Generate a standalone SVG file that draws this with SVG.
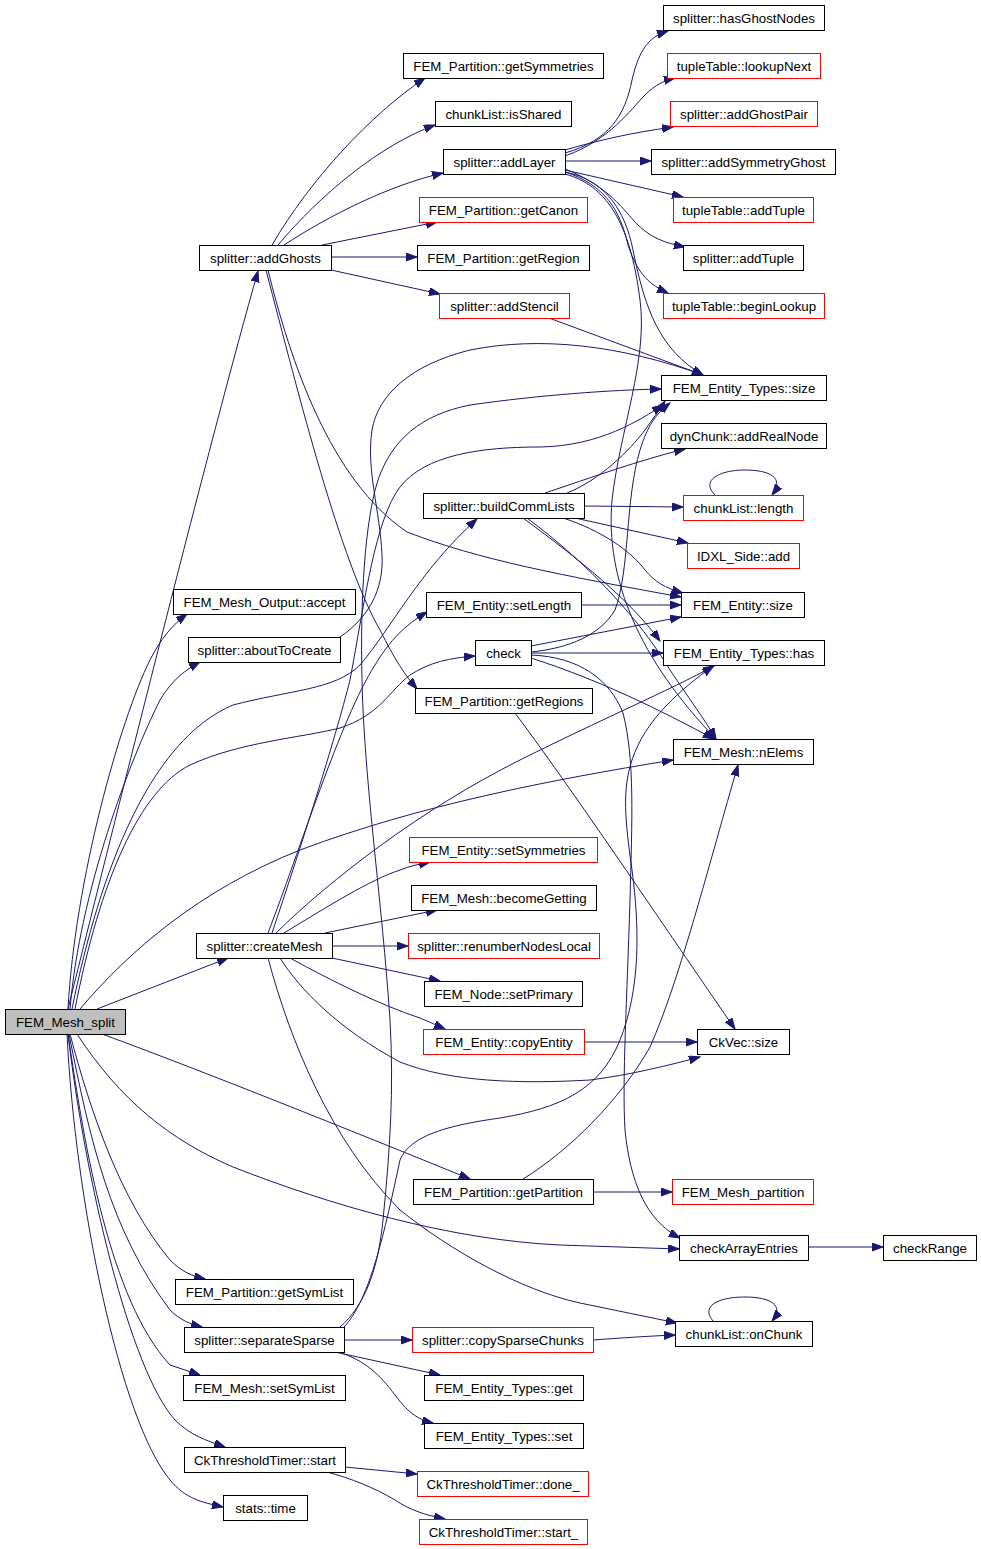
<svg xmlns="http://www.w3.org/2000/svg" width="981" height="1549" viewBox="0 0 981 1549">
<style>
.n rect{fill:#fff;stroke:#000;stroke-width:1}
.n.r rect{stroke:#f00}
.n.g rect{fill:#bfbfbf}
.n text{font-family:"Liberation Sans",Arial,Helvetica,sans-serif;font-size:13.3px;fill:#000;text-anchor:middle}
#edges path{fill:none;stroke:#191970;stroke-width:1;marker-end:url(#ah)}
</style>
<defs>
<marker id="ah" markerUnits="userSpaceOnUse" markerWidth="12" markerHeight="10" refX="11" refY="4" orient="auto">
<path d="M0,0 L11,4 L0,8 z" fill="#191970" stroke="#191970" stroke-width="1"/>
</marker>
</defs>
<rect width="981" height="1549" fill="#fff"/>
<g id="edges">
<path d="M68,1009 C120,800 210,440 258,271"/>
<path d="M68,1009 C75,880 120,720 150,660 C160,640 172,625 187,614"/>
<path d="M70,1009 C80,890 130,760 160,700 C172,680 185,670 200,662"/>
<path d="M72,1009 C100,870 150,740 233,705 C290,690 335,690 360,665 C390,630 420,570 477,519"/>
<path d="M75,1009 C100,880 140,790 190,765 C240,742 300,738 340,728 C380,715 390,690 410,675 C430,662 450,658 475,656"/>
<path d="M80,1009 C130,950 200,890 300,850 C420,805 550,780 673,760"/>
<path d="M97,1009 L228,958"/>
<path d="M102,1034 C200,1070 350,1130 470,1179"/>
<path d="M77,1034 C120,1100 170,1140 233,1167 C330,1205 450,1240 560,1245 L679,1249"/>
<path d="M70,1034 C90,1110 120,1200 170,1260 C182,1272 192,1276 205,1279"/>
<path d="M69,1034 C90,1140 110,1230 170,1310 C180,1320 190,1324 202,1327"/>
<path d="M68,1034 C85,1150 110,1300 170,1365 L200,1375"/>
<path d="M68,1034 C85,1180 130,1370 175,1420 C190,1435 205,1440 225,1447"/>
<path d="M67,1034 C75,1200 120,1420 170,1480 C185,1498 200,1502 223,1507"/>
<path d="M272,245 C310,180 370,115 425,78"/>
<path d="M278,245 C320,195 380,145 435,125"/>
<path d="M284,245 C330,215 390,185 443,173"/>
<path d="M322,245 L437,222"/>
<path d="M331,257 L417,257"/>
<path d="M331,270 L440,294"/>
<path d="M268,270 C290,360 330,480 407,532 C480,560 560,575 681,597"/>
<path d="M266,270 C300,400 340,560 380,630 C395,660 405,675 417,689"/>
<path d="M565,153 C610,140 625,115 632,80 C640,45 652,36 668,31"/>
<path d="M565,156 C610,140 630,110 645,95 C655,85 665,80 675,78"/>
<path d="M565,150 C600,140 630,133 673,127"/>
<path d="M565,161 L651,161"/>
<path d="M565,170 L683,197"/>
<path d="M565,169 C605,185 620,205 635,222 C650,238 665,243 685,247"/>
<path d="M565,172 C605,185 620,210 628,245 C638,275 650,285 668,293"/>
<path d="M565,172 C605,180 625,210 633,250 C645,310 660,350 703,375"/>
<path d="M565,174 C605,185 630,220 640,300 C648,360 620,430 612,500 C605,580 640,660 716,739"/>
<path d="M549,318 L703,375"/>
<path d="M340,637 C368,618 384,590 382,555 C380,510 366,470 372,430 C378,395 410,365 470,350 C540,336 620,345 703,375"/>
<path d="M340,1327 C365,1305 378,1270 383,1220 C390,1150 394,1090 390,1020 C382,900 364,780 362,680 C360,600 365,520 378,480 C392,440 420,415 470,405 C540,395 610,390 661,389"/>
<path d="M344,1327 C370,1300 385,1230 400,1160 C410,1135 450,1125 500,1118 C560,1108 600,1090 620,1040 C640,990 640,930 632,870 C625,820 622,790 632,760 C645,720 680,690 713,666"/>
<path d="M344,1340 L412,1340"/>
<path d="M335,1352 L440,1375"/>
<path d="M338,1352 C365,1360 380,1375 395,1395 C410,1415 420,1420 433,1423"/>
<path d="M593,1340 C620,1338 650,1336 675,1335"/>
<path d="M345,1467 L417,1474"/>
<path d="M327,1472 C350,1478 375,1488 395,1500 C410,1510 425,1515 445,1519"/>
<path d="M593,1192 L672,1192"/>
<path d="M523,1179 C570,1150 620,1100 650,1047 C680,980 710,860 738,765"/>
<path d="M515,713 C580,800 680,950 735,1029"/>
<path d="M584,1042 L697,1042"/>
<path d="M268,933 C300,850 340,720 375,665 C390,640 405,625 427,612"/>
<path d="M272,933 C300,850 335,740 350,680 C365,600 375,520 400,487 C425,455 480,447 540,447 C600,446 640,420 663,405"/>
<path d="M276,933 C330,880 420,810 520,760 C600,720 670,690 714,666"/>
<path d="M284,933 C330,905 370,880 400,870 C410,866 420,864 430,862"/>
<path d="M325,933 L437,910"/>
<path d="M332,946 L408,946"/>
<path d="M332,958 L440,981"/>
<path d="M290,958 C330,980 380,1005 420,1018 C430,1022 438,1026 445,1029"/>
<path d="M280,958 C300,990 340,1030 400,1062 C450,1082 520,1084 590,1080 C630,1075 670,1065 700,1057"/>
<path d="M268,958 C290,1040 330,1140 400,1210 C450,1250 520,1290 580,1303 L677,1323"/>
<path d="M545,493 C590,478 640,460 685,449"/>
<path d="M567,493 C600,480 630,450 645,430 C652,420 658,412 665,401"/>
<path d="M584,506 L683,507"/>
<path d="M575,518 L688,543"/>
<path d="M563,518 C600,530 630,550 645,570 C655,582 665,588 683,593"/>
<path d="M523,518 C580,560 630,600 660,641"/>
<path d="M527,518 C590,565 640,620 670,670 C690,700 705,720 716,739"/>
<path d="M581,605 L681,605"/>
<path d="M531,646 L681,617"/>
<path d="M531,652 C570,648 600,635 615,610 C630,570 625,500 640,450 C648,425 655,415 670,403"/>
<path d="M531,653 L663,653"/>
<path d="M531,658 C600,680 660,710 714,739"/>
<path d="M531,655 C580,657 610,680 623,713 C635,760 632,820 630,900 C627,1000 622,1080 625,1130 C630,1180 645,1220 680,1238"/>
<path d="M715,495 C700,480 720,470 745,470 C770,470 785,478 772,495"/>
<path d="M713,1321 C700,1305 720,1297 745,1297 C770,1297 785,1305 772,1321"/>
<path d="M808,1247 L883,1247"/>
</g>
<g id="FEM_Mesh_split" class="n g"><rect x="5.5" y="1009.5" width="120" height="25"/><text x="65.5" y="1027">FEM_Mesh_split</text></g>
<g id="addGhosts" class="n"><rect x="199.5" y="245.5" width="132" height="25"/><text x="265.5" y="263">splitter::addGhosts</text></g>
<g id="getSymmetries" class="n"><rect x="403.5" y="53.5" width="200" height="25"/><text x="503.5" y="71">FEM_Partition::getSymmetries</text></g>
<g id="isShared" class="n"><rect x="435.5" y="101.5" width="136" height="25"/><text x="503.5" y="119">chunkList::isShared</text></g>
<g id="addLayer" class="n"><rect x="443.5" y="149.5" width="122" height="25"/><text x="504.5" y="167">splitter::addLayer</text></g>
<g id="getCanon" class="n r"><rect x="419.5" y="197.5" width="168" height="25"/><text x="503.5" y="215">FEM_Partition::getCanon</text></g>
<g id="getRegion" class="n"><rect x="417.5" y="245.5" width="172" height="25"/><text x="503.5" y="263">FEM_Partition::getRegion</text></g>
<g id="addStencil" class="n r"><rect x="439.5" y="293.5" width="130" height="25"/><text x="504.5" y="311">splitter::addStencil</text></g>
<g id="hasGhostNodes" class="n"><rect x="663.5" y="5.5" width="161" height="25"/><text x="744" y="23">splitter::hasGhostNodes</text></g>
<g id="lookupNext" class="n r"><rect x="667.5" y="53.5" width="153" height="25"/><text x="744" y="71">tupleTable::lookupNext</text></g>
<g id="addGhostPair" class="n r"><rect x="670.5" y="101.5" width="147" height="25"/><text x="744" y="119">splitter::addGhostPair</text></g>
<g id="addSymmetryGhost" class="n"><rect x="651.5" y="149.5" width="184" height="25"/><text x="743.5" y="167">splitter::addSymmetryGhost</text></g>
<g id="tt_addTuple" class="n r"><rect x="673.5" y="197.5" width="140" height="25"/><text x="743.5" y="215">tupleTable::addTuple</text></g>
<g id="sp_addTuple" class="n"><rect x="683.5" y="245.5" width="120" height="25"/><text x="743.5" y="263">splitter::addTuple</text></g>
<g id="beginLookup" class="n r"><rect x="663.5" y="293.5" width="161" height="25"/><text x="744" y="311">tupleTable::beginLookup</text></g>
<g id="FET_size" class="n"><rect x="661.5" y="375.5" width="165" height="25"/><text x="744" y="393">FEM_Entity_Types::size</text></g>
<g id="addRealNode" class="n"><rect x="661.5" y="423.5" width="165" height="25"/><text x="744" y="441">dynChunk::addRealNode</text></g>
<g id="cl_length" class="n r"><rect x="683.5" y="495.5" width="120" height="25"/><text x="743.5" y="513">chunkList::length</text></g>
<g id="IDXL_add" class="n r"><rect x="687.5" y="543.5" width="112" height="25"/><text x="743.5" y="561">IDXL_Side::add</text></g>
<g id="FE_size" class="n"><rect x="681.5" y="592.5" width="123" height="25"/><text x="743" y="610">FEM_Entity::size</text></g>
<g id="FET_has" class="n"><rect x="663.5" y="640.5" width="161" height="25"/><text x="744" y="658">FEM_Entity_Types::has</text></g>
<g id="nElems" class="n"><rect x="673.5" y="739.5" width="140" height="25"/><text x="743.5" y="757">FEM_Mesh::nElems</text></g>
<g id="buildCommLists" class="n"><rect x="423.5" y="493.5" width="161" height="25"/><text x="504" y="511">splitter::buildCommLists</text></g>
<g id="setLength" class="n"><rect x="426.5" y="592.5" width="155" height="25"/><text x="504" y="610">FEM_Entity::setLength</text></g>
<g id="check" class="n"><rect x="475.5" y="640.5" width="56" height="25"/><text x="503.5" y="658">check</text></g>
<g id="getRegions" class="n"><rect x="415.5" y="688.5" width="177" height="25"/><text x="504" y="706">FEM_Partition::getRegions</text></g>
<g id="accept" class="n"><rect x="173.5" y="589.5" width="182" height="25"/><text x="264.5" y="607">FEM_Mesh_Output::accept</text></g>
<g id="aboutToCreate" class="n"><rect x="188.5" y="637.5" width="152" height="25"/><text x="264.5" y="655">splitter::aboutToCreate</text></g>
<g id="createMesh" class="n"><rect x="196.5" y="933.5" width="136" height="25"/><text x="264.5" y="951">splitter::createMesh</text></g>
<g id="setSymmetries" class="n r"><rect x="409.5" y="837.5" width="188" height="25"/><text x="503.5" y="855">FEM_Entity::setSymmetries</text></g>
<g id="becomeGetting" class="n"><rect x="411.5" y="885.5" width="185" height="25"/><text x="504" y="903">FEM_Mesh::becomeGetting</text></g>
<g id="renumberNodesLocal" class="n r"><rect x="408.5" y="933.5" width="191" height="25"/><text x="504" y="951">splitter::renumberNodesLocal</text></g>
<g id="setPrimary" class="n"><rect x="424.5" y="981.5" width="158" height="25"/><text x="503.5" y="999">FEM_Node::setPrimary</text></g>
<g id="copyEntity" class="n r"><rect x="423.5" y="1029.5" width="161" height="25"/><text x="504" y="1047">FEM_Entity::copyEntity</text></g>
<g id="CkVec_size" class="n"><rect x="697.5" y="1029.5" width="92" height="25"/><text x="743.5" y="1047">CkVec::size</text></g>
<g id="getPartition" class="n"><rect x="413.5" y="1179.5" width="180" height="25"/><text x="503.5" y="1197">FEM_Partition::getPartition</text></g>
<g id="FEM_Mesh_partition" class="n r"><rect x="672.5" y="1179.5" width="141" height="25"/><text x="743" y="1197">FEM_Mesh_partition</text></g>
<g id="checkArrayEntries" class="n"><rect x="679.5" y="1235.5" width="129" height="25"/><text x="744" y="1253">checkArrayEntries</text></g>
<g id="checkRange" class="n"><rect x="883.5" y="1235.5" width="93" height="25"/><text x="930" y="1253">checkRange</text></g>
<g id="onChunk" class="n"><rect x="675.5" y="1321.5" width="137" height="25"/><text x="744" y="1339">chunkList::onChunk</text></g>
<g id="getSymList" class="n"><rect x="175.5" y="1279.5" width="178" height="25"/><text x="264.5" y="1297">FEM_Partition::getSymList</text></g>
<g id="separateSparse" class="n"><rect x="184.5" y="1327.5" width="160" height="25"/><text x="264.5" y="1345">splitter::separateSparse</text></g>
<g id="setSymList" class="n"><rect x="183.5" y="1375.5" width="162" height="25"/><text x="264.5" y="1393">FEM_Mesh::setSymList</text></g>
<g id="CkTT_start" class="n"><rect x="184.5" y="1447.5" width="161" height="25"/><text x="265" y="1465">CkThresholdTimer::start</text></g>
<g id="stats_time" class="n"><rect x="223.5" y="1495.5" width="84" height="25"/><text x="265.5" y="1513">stats::time</text></g>
<g id="copySparseChunks" class="n r"><rect x="412.5" y="1327.5" width="181" height="25"/><text x="503" y="1345">splitter::copySparseChunks</text></g>
<g id="FET_get" class="n"><rect x="424.5" y="1375.5" width="159" height="25"/><text x="504" y="1393">FEM_Entity_Types::get</text></g>
<g id="FET_set" class="n"><rect x="424.5" y="1423.5" width="159" height="25"/><text x="504" y="1441">FEM_Entity_Types::set</text></g>
<g id="CkTT_done_" class="n r"><rect x="417.5" y="1471.5" width="171" height="25"/><text x="503" y="1489">CkThresholdTimer::done_</text></g>
<g id="CkTT_start_" class="n r"><rect x="419.5" y="1519.5" width="168" height="25"/><text x="503.5" y="1537">CkThresholdTimer::start_</text></g>
</svg>
